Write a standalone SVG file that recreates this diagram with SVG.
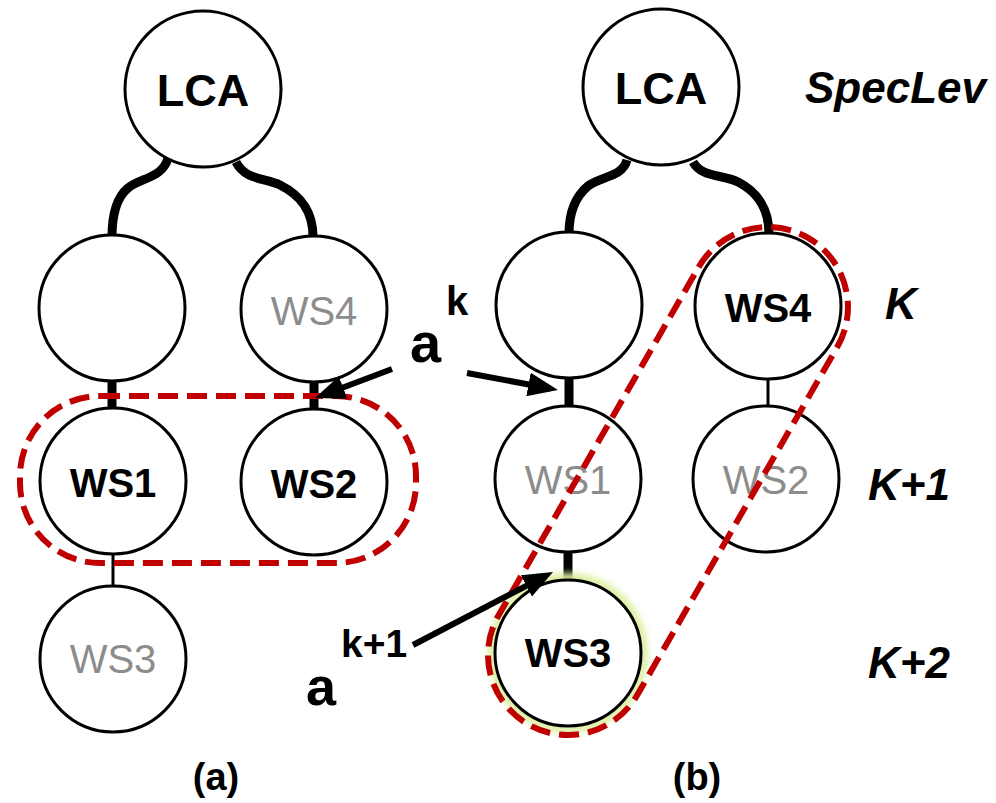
<svg xmlns="http://www.w3.org/2000/svg" width="996" height="803" viewBox="0 0 996 803">
<defs>
<style>
.node{fill:#fff;stroke:#000;stroke-width:3}
.lbl{font-family:"Liberation Sans",Arial,sans-serif;font-size:40px;text-anchor:middle}
.b{font-weight:bold;fill:#000}
.g{fill:#8c8c8c}
.lca{font-size:45px}
.thick{fill:none;stroke:#000;stroke-width:9}
.thin{fill:none;stroke:#000;stroke-width:3}
.arrow{fill:none;stroke:#000;stroke-width:6;marker-end:url(#ah)}
.red{fill:none;stroke:#c00000;stroke-width:6;stroke-dasharray:20 9}
.side{font-family:"Liberation Sans",Arial,sans-serif;font-weight:bold;font-style:italic;font-size:44px;fill:#000}
.sym{font-family:"Liberation Sans",Arial,sans-serif;font-weight:bold;fill:#000}
</style>
<marker id="ah" markerUnits="userSpaceOnUse" markerWidth="30" markerHeight="24" refX="22" refY="12" orient="auto">
<path d="M0,0 L30,12 L0,24 Z" fill="#000"/>
</marker>
<filter id="glow" x="-30%" y="-30%" width="160%" height="160%">
<feGaussianBlur stdDeviation="3"/>
</filter>
</defs>
<rect width="996" height="803" fill="#fff"/>

<g id="connectors">
<path class="thick" d="M168,158 C163,178 140,178 128,188 C116,198 112,215 112,237"/>
<path class="thick" d="M236,162 C245,180 265,178 280,185 C300,195 313,210 313,237"/>
<path class="thick" d="M627,160 C622,178 600,176 588,186 C576,196 569,212 569,234"/>
<path class="thick" d="M693,162 C702,178 722,174 738,182 C758,192 769,210 769,234"/>
<line class="thick" x1="112" y1="380" x2="112" y2="409"/>
<line class="thick" x1="314" y1="381" x2="314" y2="410"/>
<line class="thin" x1="113" y1="554" x2="113" y2="586"/>
<line class="thick" x1="569" y1="377" x2="569" y2="407"/>
<line class="thick" x1="568" y1="551" x2="568" y2="581"/>
<line class="thin" x1="768" y1="378" x2="768" y2="407"/>
</g>

<circle cx="568" cy="653" r="75" fill="none" stroke="#dcefa0" stroke-width="10" filter="url(#glow)"/>

<g id="lca-a"><circle class="node" cx="203" cy="89" r="78"/><text class="lbl b lca" x="203" y="106">LCA</text></g>
<g id="n-a1"><circle class="node" cx="112" cy="308" r="73"/></g>
<g id="ws4-a"><circle class="node" cx="314" cy="309" r="73"/><text class="lbl g" x="314" y="325">WS4</text></g>
<g id="ws1-a"><circle class="node" cx="113" cy="481" r="73"/><text class="lbl b" x="113" y="497">WS1</text></g>
<g id="ws2-a"><circle class="node" cx="314" cy="482" r="73"/><text class="lbl b" x="314" y="498">WS2</text></g>
<g id="ws3-a"><circle class="node" cx="113" cy="659" r="73"/><text class="lbl g" x="113" y="673">WS3</text></g>

<g id="lca-b"><circle class="node" cx="661" cy="87" r="78"/><text class="lbl b lca" x="661" y="104">LCA</text></g>
<g id="n-b1"><circle class="node" cx="569" cy="305" r="73"/></g>
<g id="ws4-b"><circle class="node" cx="768" cy="306" r="73"/><text class="lbl b" x="768" y="322">WS4</text></g>
<g id="ws1-b"><circle class="node" cx="568" cy="479" r="73"/><text class="lbl g" x="568" y="494">WS1</text></g>
<g id="ws2-b"><circle class="node" cx="766" cy="479" r="73"/><text class="lbl g" x="766" y="494">WS2</text></g>
<g id="ws3-b"><circle class="node" cx="568" cy="653" r="73"/><text class="lbl b" x="568" y="667">WS3</text></g>

<g id="groups">
<rect class="red" x="20" y="396" width="396" height="167" rx="80" ry="80"/>
<path class="red" d="M698.6,267.2 A80,80 0 0 1 837.4,346.8 L637.4,694.8 A80,80 0 0 1 498.6,615.2 Z"/>
</g>

<g id="arrows">
<line class="arrow" x1="392" y1="369" x2="322.5" y2="395.2"/>
<line class="arrow" x1="467" y1="373" x2="550.1" y2="388.5"/>
<line class="arrow" x1="413" y1="645" x2="545.9" y2="575.7"/>
</g>

<g id="labels">
<text class="sym" x="410" y="362" font-size="56">a</text>
<text class="sym" x="446" y="315" font-size="40">k</text>
<text class="sym" x="306" y="705" font-size="54">a</text>
<text class="sym" x="341" y="657" font-size="39">k+1</text>
<text class="side" x="805" y="103" font-size="45">SpecLev</text>
<text class="side" x="885" y="319">K</text>
<text class="side" x="868" y="500">K+1</text>
<text class="side" x="868" y="678">K+2</text>
<text class="sym" x="216" y="790" font-size="38" text-anchor="middle">(a)</text>
<text class="sym" x="697" y="790" font-size="38" text-anchor="middle">(b)</text>
</g>
</svg>
